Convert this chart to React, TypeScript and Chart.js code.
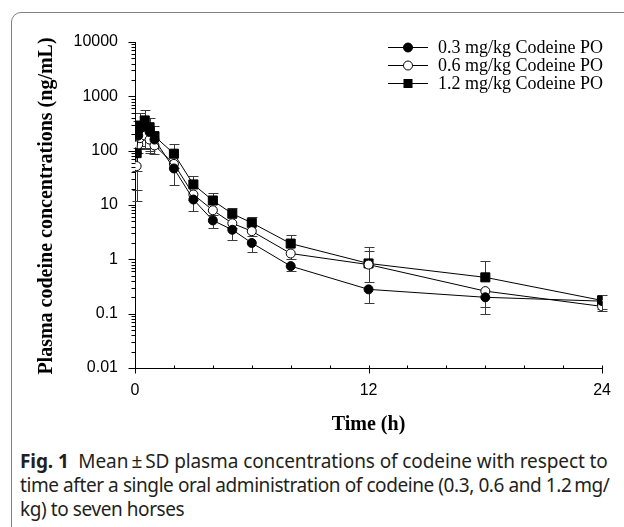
import React, { useEffect, useRef } from "react";
import { Chart, registerables } from "chart.js";
Chart.register(...registerables);

// ---- data ----
const TIME_H = [0.083, 0.167, 0.25, 0.5, 0.75, 1, 2, 3, 4, 5, 6, 8, 12, 18, 24];

const LOW_MEAN = [90, 190, 250, 280, 220, 160, 47, 12.6, 5.2, 3.5, 2.0, 0.75, 0.28, 0.2, 0.17];
const LOW_SD_UP = [null, null, null, null, null, null, null, null, null, null, null, null, null, null, null];
const LOW_SD_DOWN = [78, 80, 130, 170, 120, 50, 24, 4.9, 1.4, 1.2, 0.64, 0.14, 0.124, 0.07, 0.05];

const MID_MEAN = [52, 130, 170, 190, 160, 125, 57, 15.6, 8.0, 4.6, 3.3, 1.28, 0.8, 0.26, 0.136];
const MID_SD_UP = [null, null, null, null, null, null, null, null, null, null, null, null, 0.65, null, null];
const MID_SD_DOWN = [10, 40, 60, 84, 70, 38, 10, 3, 1.5, 0.8, 0.6, 0.25, 0.41, 0.16, 0.026];

const HIGH_MEAN = [90, 200, 290, 360, 270, 185, 88, 23.9, 12.1, 6.9, 4.7, 1.95, 0.84, 0.466, 0.175];
const HIGH_SD_UP = [null, 150, 200, 190, 135, 100, 46, 10, 4.2, 1.9, 1.3, 0.9, 0.83, 0.48, 0.048];
const HIGH_SD_DOWN = [71, null, null, null, null, null, null, null, null, null, null, null, null, null, null];

const SERIES_LABELS = ["0.3 mg/kg Codeine PO", "0.6 mg/kg Codeine PO", "1.2 mg/kg Codeine PO"];

const Y_TICKS = [0.01, 0.1, 1, 10, 100, 1000, 10000];
const Y_TICK_LABELS = ["0.01", "0.1", "1", "10", "100", "1000", "10000"];
const X_TICKS = [0, 12, 24];
const X_TICK_LABELS = ["0", "12", "24"];
const X_MINOR_STEP = 2;

const Y_TITLE = "Plasma codeine concentrations (ng/mL)";
const X_TITLE = "Time (h)";

const CANVAS_W = 624;
const CANVAS_H = 440;

type Marker = "filled" | "open" | "square";

function drawMarker(ctx: CanvasRenderingContext2D, kind: Marker, x: number, y: number) {
  ctx.save();
  ctx.lineWidth = 1;
  ctx.strokeStyle = "#000";
  if (kind === "square") {
    ctx.fillStyle = "#000";
    ctx.fillRect(x - 4.5, y - 4.5, 9, 9);
  } else {
    ctx.beginPath();
    ctx.arc(x, y, 4.5, 0, Math.PI * 2);
    ctx.fillStyle = kind === "filled" ? "#000" : "#fff";
    ctx.fill();
    ctx.stroke();
  }
  ctx.restore();
}

const decorPlugin = {
  id: "decor",
  beforeDatasetsDraw(chart: any) {
    const ctx: CanvasRenderingContext2D = chart.ctx;
    const ys = chart.scales.y;
    ctx.save();
    ctx.strokeStyle = "#3a3a3a";
    ctx.lineWidth = 1;
    chart.data.datasets.forEach((ds: any, di: number) => {
      const meta = chart.getDatasetMeta(di);
      ds.data.forEach((pt: any, i: number) => {
        const el = meta.data[i];
        if (!el) return;
        const x = Math.round(el.x) + 0.5;
        const up = ds.sdUp[i];
        const dn = ds.sdDown[i];
        const drawSeg = (v: number) => {
          const yy = Math.round(ys.getPixelForValue(v)) + 0.5;
          ctx.beginPath();
          ctx.moveTo(x, el.y);
          ctx.lineTo(x, yy);
          ctx.moveTo(x - 5, yy);
          ctx.lineTo(x + 5, yy);
          ctx.stroke();
        };
        if (up != null) drawSeg(pt.y + up);
        if (dn != null) drawSeg(Math.max(pt.y - dn, 0.011));
      });
    });
    ctx.restore();
  },
  afterDraw(chart: any) {
    const ctx: CanvasRenderingContext2D = chart.ctx;
    const xs = chart.scales.x;
    const ys = chart.scales.y;
    const area = chart.chartArea;
    const left = Math.round(area.left) + 0.5;
    const bottom = Math.round(area.bottom) + 0.5;
    ctx.save();
    ctx.strokeStyle = "#000";
    ctx.lineWidth = 1;
    ctx.beginPath();
    // y ticks
    for (let d = -2; d <= 4; d++) {
      const major = Math.pow(10, d);
      const py = Math.round(ys.getPixelForValue(major)) + 0.5;
      ctx.moveTo(left - 7, py);
      ctx.lineTo(left, py);
      if (d < 4) {
        for (let k = 2; k <= 9; k++) {
          const pm = Math.round(ys.getPixelForValue(k * major)) + 0.5;
          ctx.moveTo(left - 4, pm);
          ctx.lineTo(left, pm);
        }
      }
    }
    // x ticks
    for (let t = 0; t <= 24; t += X_MINOR_STEP) {
      const px = Math.round(xs.getPixelForValue(t)) + 0.5;
      if (X_TICKS.indexOf(t) >= 0) {
        ctx.moveTo(px, bottom - 3);
        ctx.lineTo(px, bottom + 5);
      } else {
        ctx.moveTo(px, bottom - 3);
        ctx.lineTo(px, bottom);
      }
    }
    ctx.stroke();

    // axis titles
    ctx.fillStyle = "#000";
    ctx.font = "bold 20px 'Liberation Serif', 'Times New Roman', serif";
    ctx.textAlign = "center";
    ctx.textBaseline = "middle";
    ctx.fillText(X_TITLE, (area.left + area.right) / 2, 425);
    ctx.save();
    ctx.translate(47, (area.top + area.bottom) / 2 + 1);
    ctx.rotate(-Math.PI / 2);
    ctx.fillText(Y_TITLE, 0, 0);
    ctx.restore();

    // legend
    const rows = [47, 65, 83];
    ctx.font = "18px 'Liberation Serif', 'Times New Roman', serif";
    ctx.textAlign = "left";
    ctx.textBaseline = "middle";
    chart.data.datasets.forEach((ds: any, i: number) => {
      const ry = rows[i] + 0.5;
      ctx.beginPath();
      ctx.moveTo(388, ry);
      ctx.lineTo(428, ry);
      ctx.stroke();
      drawMarker(ctx, ds.marker, 408, ry);
      ctx.fillStyle = "#000";
      ctx.fillText(ds.label, 438, rows[i] + 1);
    });
    ctx.restore();
  },
};

function makeDataset(label: string, mean: number[], up: (number | null)[], down: (number | null)[], marker: Marker) {
  const pointStyle = marker === "square" ? "rect" : "circle";
  return {
    label,
    marker,
    sdUp: up,
    sdDown: down,
    data: TIME_H.map((t, i) => ({ x: t, y: mean[i] })),
    borderColor: "#000",
    borderWidth: 1,
    showLine: true,
    tension: 0,
    pointStyle,
    pointRadius: marker === "square" ? 6.4 : 4.5,
    pointBackgroundColor: marker === "open" ? "#fff" : "#000",
    pointBorderColor: "#000",
    pointBorderWidth: 1,
    fill: false,
  };
}

const captionLine: React.CSSProperties = {
  height: 24,
  lineHeight: "24px",
  whiteSpace: "nowrap",
};

export default function App() {
  const ref = useRef<HTMLCanvasElement | null>(null);
  useEffect(() => {
    if (!ref.current) return;
    const tickFont = { family: "'Liberation Sans', Arial, sans-serif", size: 16 };
    const chart = new Chart(ref.current, {
      type: "line",
      data: {
        datasets: [
          makeDataset(SERIES_LABELS[0], LOW_MEAN, LOW_SD_UP, LOW_SD_DOWN, "filled"),
          makeDataset(SERIES_LABELS[1], MID_MEAN, MID_SD_UP, MID_SD_DOWN, "open"),
          makeDataset(SERIES_LABELS[2], HIGH_MEAN, HIGH_SD_UP, HIGH_SD_DOWN, "square"),
        ] as any,
      },
      options: {
        responsive: false,
        animation: false,
        devicePixelRatio: 1,
        layout: { padding: { top: 42, right: 21, left: 0, bottom: 0 } },
        plugins: { legend: { display: false }, tooltip: { enabled: false } },
        scales: {
          x: {
            type: "linear",
            min: 0,
            max: 24,
            afterBuildTicks: (s: any) => {
              s.ticks = X_TICKS.map((v) => ({ value: v }));
            },
            afterFit: (s: any) => {
              s.height = CANVAS_H - 368;
            },
            ticks: {
              font: tickFont,
              color: "#000",
              padding: 13,
              maxRotation: 0,
              autoSkip: false,
              callback: (_v: any, i: number) => X_TICK_LABELS[i],
            },
            grid: { display: false, drawTicks: false },
            border: { display: true, color: "#000", width: 1 },
          },
          y: {
            type: "logarithmic",
            min: 0.01,
            max: 10000,
            afterBuildTicks: (s: any) => {
              s.ticks = Y_TICKS.map((v) => ({ value: v }));
            },
            afterFit: (s: any) => {
              s.width = 135;
            },
            ticks: {
              font: tickFont,
              color: "#000",
              padding: 17,
              autoSkip: false,
              callback: (_v: any, i: number) => Y_TICK_LABELS[i],
            },
            grid: { display: false, drawTicks: false },
            border: { display: true, color: "#000", width: 1 },
          },
        },
      } as any,
      plugins: [decorPlugin as any],
    });
    return () => chart.destroy();
  }, []);

  return (
    <div
      style={{
        position: "fixed",
        left: 0,
        top: 0,
        width: 624,
        height: 527,
        overflow: "hidden",
        background: "#fff",
      }}
    >
      <div
        style={{
          position: "absolute",
          left: 11,
          top: 12,
          width: 660,
          height: 580,
          border: "1.5px solid #808080",
          borderRadius: 10,
          boxSizing: "border-box",
        }}
      />
      <canvas
        ref={ref}
        width={CANVAS_W}
        height={CANVAS_H}
        style={{ position: "absolute", left: 0, top: 0, width: CANVAS_W, height: CANVAS_H }}
      />
      <div
        style={{
          position: "absolute",
          left: 20,
          top: 449,
          fontFamily: "'Noto Sans', 'Open Sans', sans-serif",
          fontSize: 19,
          color: "#231f20",
        }}
      >
        <div style={{ ...captionLine, letterSpacing: "-0.1px" }}>
          <b>Fig. 1</b>&nbsp;&nbsp;Mean{"\u2009"}±{"\u2009"}SD plasma concentrations of codeine with respect to
        </div>
        <div style={{ ...captionLine, letterSpacing: "-0.42px" }}>
          time after a single oral administration of codeine (0.3, 0.6 and 1.2{"\u2009"}mg/
        </div>
        <div style={{ ...captionLine, letterSpacing: "-0.42px" }}>kg) to seven horses</div>
      </div>
    </div>
  );
}
